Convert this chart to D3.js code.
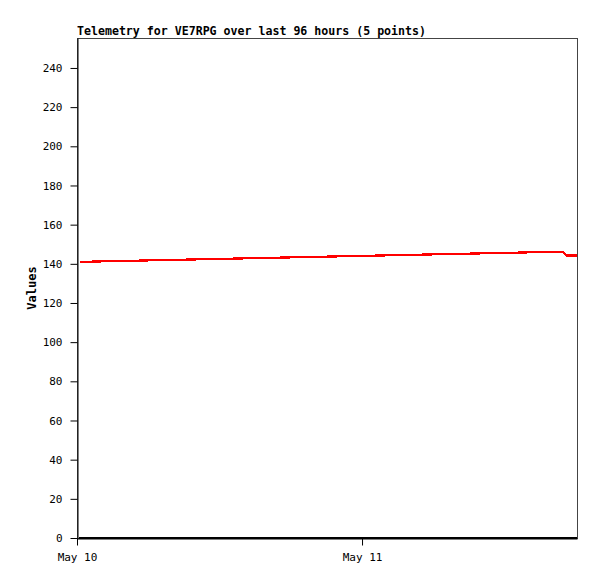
<!DOCTYPE html>
<html>
<head>
<meta charset="utf-8">
<script src="https://cdn.jsdelivr.net/npm/d3@7"></script>
<style>
  body { margin: 0; background: #fff; }
  text { font-family: "DejaVu Sans Mono", monospace; }
</style>
</head>
<body>
<div id="chart"></div>
<script>
// readings (times)
const times = ["2024-05-10T00:15", "2024-05-10T20:28", "2024-05-11T16:50", "2024-05-11T17:16", "2024-05-11T18:06"];
const valuesRed = [141.0, 143.6, 146.2, 144.2, 144.2];
const valuesBlack = [0, 0, 0, 0, 0];
const yTicks = [0, 20, 40, 60, 80, 100, 120, 140, 160, 180, 200, 220, 240];
const xTicks = ["2024-05-10T00:00", "2024-05-11T00:00"];

const parse = d3.timeParse("%Y-%m-%dT%H:%M");

const W = 597, H = 579;
const margin = { left: 77, right: 20, top: 38, bottom: 41 };

const svg = d3.select("#chart").append("svg")
  .attr("width", W).attr("height", H);

const x = d3.scaleTime()
  .domain([parse("2024-05-10T00:00"), parse("2024-05-11T18:06")])
  .range([margin.left, W - margin.right]);
const y = d3.scaleLinear()
  .domain([0, 255.3])
  .range([H - margin.bottom, margin.top]);

// frame
svg.append("rect")
  .attr("x", margin.left + 0.5).attr("y", margin.top + 0.5)
  .attr("width", W - margin.right - margin.left).attr("height", H - margin.bottom - margin.top)
  .attr("fill", "none").attr("stroke", "#444").attr("stroke-width", 1);

// y axis
const yAxis = svg.append("g")
  .attr("transform", `translate(${margin.left + 0.5},0)`)
  .call(d3.axisLeft(y).tickValues(yTicks).tickSize(7).tickPadding(8).tickSizeOuter(0));
yAxis.select(".domain").attr("stroke", "#000");
yAxis.selectAll("text").attr("font-size", 11).attr("fill", "#000")
  .style("font-family", "'DejaVu Sans Mono', monospace");

// x axis
const xAxis = svg.append("g")
  .attr("transform", `translate(0,${H - margin.bottom + 0.5})`)
  .call(d3.axisBottom(x).tickValues(xTicks.map(parse)).tickFormat(d => d3.timeFormat("%b %e")(d).replace(/\s+/, " "))
    .tickSize(7).tickPadding(8).tickSizeOuter(0));
xAxis.select(".domain").attr("stroke", "#000");
xAxis.selectAll("text").attr("font-size", 11).attr("fill", "#000")
  .style("font-family", "'DejaVu Sans Mono', monospace");

const line = d3.line().x(d => x(d[0])).y(d => y(d[1]));
const tDates = times.map(parse);

// black series at zero
svg.append("path")
  .datum([[parse("2024-05-10T00:10"), 0], ...tDates.map((t, i) => [t, valuesBlack[i]])])
  .attr("d", line)
  .attr("fill", "none").attr("stroke", "#000").attr("stroke-width", 2)
  .attr("shape-rendering", "crispEdges");

// red series
svg.append("path")
  .datum(tDates.map((t, i) => [t, valuesRed[i]]))
  .attr("d", line)
  .attr("fill", "none").attr("stroke", "#ff0000").attr("stroke-width", 2.2)
  .attr("shape-rendering", "crispEdges");

// title
svg.append("text")
  .attr("x", margin.left).attr("y", 35)
  .attr("font-size", 11.6).attr("font-weight", "bold")
  .text("Telemetry for VE7RPG over last 96 hours (5 points)");

// y label
svg.append("text")
  .attr("transform", `translate(36,${(margin.top + H - margin.bottom) / 2}) rotate(-90)`)
  .attr("text-anchor", "middle")
  .attr("font-size", 12).attr("font-weight", "bold")
  .text("Values");
</script>
</body>
</html>
